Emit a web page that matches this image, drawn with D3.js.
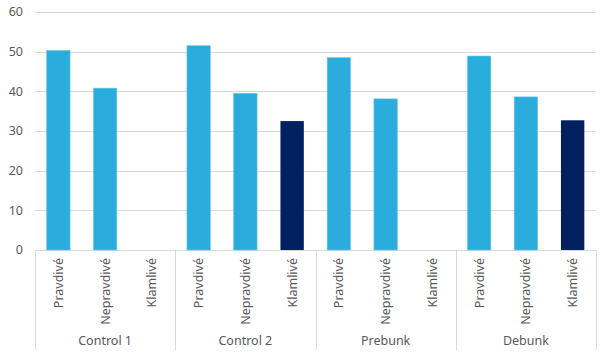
<!DOCTYPE html>
<html><head><meta charset="utf-8">
<script src="https://cdn.jsdelivr.net/npm/d3@7"></script>
<style>body{margin:0;background:#fff}svg{display:block}text{font-family:"Noto Sans",sans-serif;fill:#595959}</style>
</head><body><svg id="c" width="612" height="357"></svg>
<script>
const groups = ["Control 1", "Control 2", "Prebunk", "Debunk"];
const subcats = ["Pravdivé", "Nepravdivé", "Klamlivé"];
const pravdive = [50.3, 51.5, 48.5, 48.9];
const nepravdive = [40.8, 39.5, 38.1, 38.6];
const klamlive = [null, 32.5, null, 32.7];
const yTicks = [0, 10, 20, 30, 40, 50, 60];
const colors = {"Pravdivé": "#2AACDC", "Nepravdivé": "#2AACDC", "Klamlivé": "#002060"};

(function () {
const series = [pravdive, nepravdive, klamlive];
const data = [];
groups.forEach((g, gi) => subcats.forEach((s, si) => data.push({g, s, v: series[si][gi]})));

const svg = d3.select("#c");
const mLeft = 35, mRight = 596, mTop = 12, mBottom = 250;
const y = d3.scaleLinear().domain([0, 60]).range([mBottom, mTop]);
const x0 = d3.scaleBand().domain(groups).range([mLeft, mRight]);
const x1 = d3.scaleBand().domain(subcats).range([0, x0.bandwidth()]).paddingInner(0.5).paddingOuter(0.25);

svg.append("g").selectAll("line").data(yTicks).join("line")
  .attr("x1", mLeft).attr("x2", mRight)
  .attr("y1", d => Math.round(y(d)) + 0.5).attr("y2", d => Math.round(y(d)) + 0.5)
  .attr("stroke", "#d9d9d9").attr("stroke-width", 1);

svg.append("g").selectAll("text").data(yTicks).join("text")
  .attr("x", 23).attr("y", d => y(d)).attr("dy", "0.35em")
  .attr("text-anchor", "end").attr("font-size", 12.5).text(d => d);

svg.append("g").selectAll("rect").data(data.filter(d => d.v != null)).join("rect")
  .attr("x", d => x0(d.g) + x1(d.s))
  .attr("width", x1.bandwidth())
  .attr("y", d => y(d.v))
  .attr("height", d => y(0) - y(d.v))
  .attr("fill", d => colors[d.s])
  .attr("stroke", d => d.s === "Klamlivé" ? "none" : "#6ec6e8")
  .attr("stroke-width", 0.6);

const seps = groups.map(g => x0(g)).concat([mRight]);
svg.append("g").selectAll("line").data(seps).join("line")
  .attr("x1", d => Math.round(d) + 0.5).attr("x2", d => Math.round(d) + 0.5)
  .attr("y1", mBottom).attr("y2", 350)
  .attr("stroke", "#d9d9d9");

svg.append("g").selectAll("text").data(data).join("text")
  .attr("transform", d => `translate(${x0(d.g) + x1(d.s) + x1.bandwidth() / 2},258) rotate(-90)`)
  .attr("dy", "0.35em").attr("text-anchor", "end").attr("font-size", 12.5)
  .text(d => d.s);

svg.append("g").selectAll("text").data(groups).join("text")
  .attr("x", g => x0(g) + x0.bandwidth() / 2).attr("y", 341)
  .attr("dy", "0.35em").attr("text-anchor", "middle").attr("font-size", 12.5)
  .text(g => g);
})();
</script></body></html>
